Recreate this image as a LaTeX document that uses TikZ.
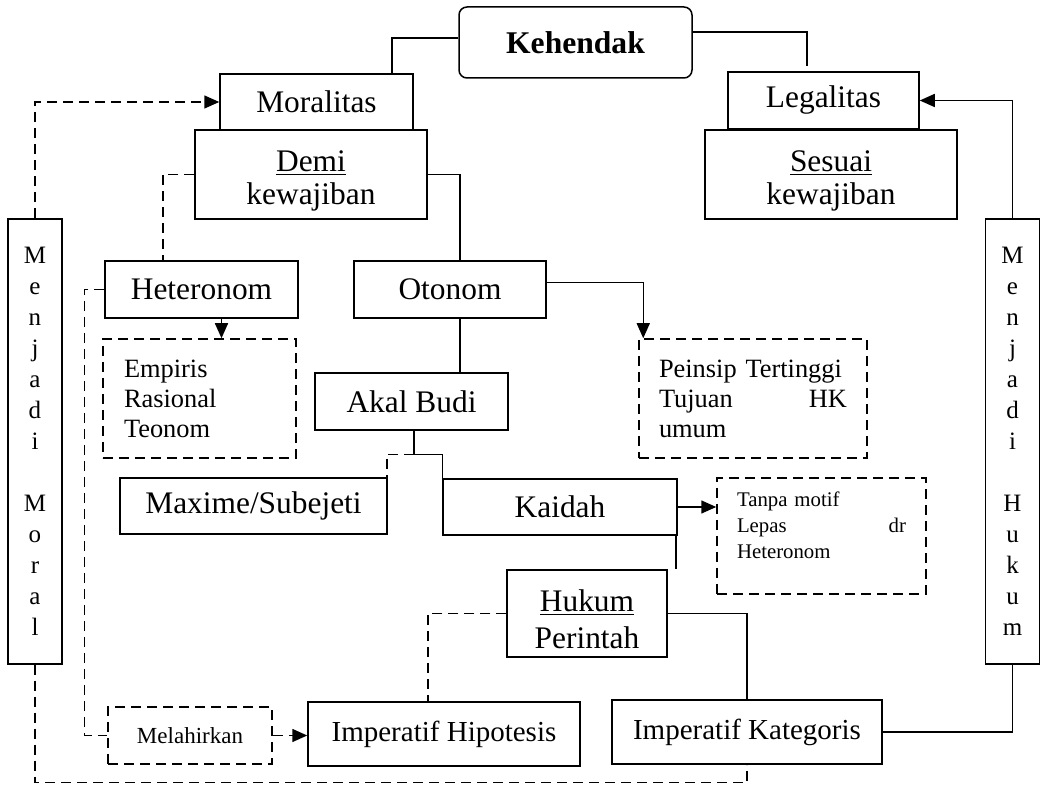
\documentclass[tikz,border=0pt]{standalone}
\usepackage{fontspec}
\setmainfont{Liberation Serif}
\usetikzlibrary{arrows.meta,positioning,calc}

\begin{document}
\begin{tikzpicture}[x=0.5pt,y=-0.5pt,line width=0.75pt,
    >={Triangle[length=7.5pt,width=6.5pt]},
    dline/.style={dash pattern=on 5pt off 3pt},
    box/.style={draw, inner sep=0pt, align=center, font=\fontsize{15.7}{16.5}\selectfont},
    dbox/.style={box, dline},
    imp/.style={box, font=\fontsize{14.5}{15}\selectfont},
    vbox/.style={box, font=\fontsize{12.5}{15.5}\selectfont, minimum width=27pt, minimum height=222.5pt}]
    \useasboundingbox (0,0) rectangle (1046,785);

        \node[box, rounded corners=4pt, font=\fontsize{15.8}{16}\selectfont\bfseries, minimum width=116.5pt, minimum height=35.5pt] (keh) at (575.5,42.5) {Kehendak};
        \node[box, minimum width=96.5pt, minimum height=28pt] (mor) at (316.5,102) {Moralitas};
        \node[box, minimum width=116pt, minimum height=44.5pt] (demi) at (311,174.5) {\underline{Demi}\rule{0pt}{16.7pt}\\kewajiban};
        \node[box, minimum width=95.5pt, minimum height=28.5pt] (leg) at (823.5,100.5) {Legalitas};
        \node[box, minimum width=126pt, minimum height=44.5pt] (ses) at (831,174.5) {\underline{Sesuai}\rule{0pt}{16.7pt}\\kewajiban};

        \node[vbox] (mm) at (35,441.5) {M\\e\\n\\j\\a\\d\\i\\[15.5pt]M\\o\\r\\a\\l};
        \node[vbox] (mh) at (1012.5,441.5) {M\\e\\n\\j\\a\\d\\i\\[15.5pt]H\\u\\k\\u\\m};

        \node[box, minimum width=96.5pt, minimum height=28.5pt] (het) at (201.5,289.5) {Heteronom};
        \node[box, minimum width=96pt, minimum height=28.5pt] (oto) at (450,289.5) {Otonom};
        \node[dbox, align=left, text width=75.5pt, inner xsep=10.5pt, minimum height=59.5pt, font=\fontsize{13.2}{15}\selectfont] (emp) at (199.5,398.5) {Empiris\\Rasional\\Teonom};
        \node[dbox, align=left, text width=94pt, inner xsep=10pt, minimum height=59.5pt, font=\fontsize{13.2}{15}\selectfont] (pei) at (753,398.5) {Peinsip Tertinggi\\Tujuan\hskip0pt plus1filll HK\\umum};

        \node[box, minimum width=96.5pt, minimum height=28.5pt] (akal) at (411.5,401.5) {Akal Budi};
        \node[box, minimum width=133.5pt, minimum height=28pt] (max) at (253.5,506) {Maxime/Subejeti};
        \node[box, minimum width=117pt, minimum height=28pt] (kai) at (560,507) {Kaidah};
        \node[dbox, align=left, text width=84.5pt, inner xsep=10pt, minimum height=58pt, font=\fontsize{10.4}{13}\selectfont] (tan) at (821.5,536) {Tanpa motif\rule{0pt}{10pt}\\Lepas\hskip0pt plus1filll dr\\Heteronom\\\mbox{}};

        \node[box, font=\fontsize{15.7}{18.5}\selectfont, minimum width=80pt, minimum height=43.5pt] (huk) at (587,613.5) {\underline{Hukum}\rule{0pt}{16.7pt}\\Perintah};
        \node[imp, minimum width=136pt, minimum height=32pt] (hip) at (444,734) {Imperatif Hipotesis};
        \node[imp, minimum width=135pt, minimum height=32pt] (kat) at (747,732) {Imperatif Kategoris};
        \node[dbox, font=\fontsize{11.5}{12}\selectfont, minimum width=82pt, minimum height=28.5pt] (mel) at (190,735.5) {Melahirkan};

        \draw ([yshift=2.25pt]keh.west) -| ($(mor.north east)+(-22,0)$);
        \draw ([yshift=5.25pt]keh.east) -| ($(leg.north)+(-16.5,-5)$);
        \draw[dline,->] (mm.north) |- (mor.west);
        \draw[->] (mh.north) |- (leg.east);

        \draw[dline] (demi.west) -| ($(het.north)+(-38.5,0)$);
        \draw (demi.east) -| ($(oto.north)+(10,0)$);

        \draw[->] ($(het.south)+(20,0)$) coordinate (hs) -- (hs |- emp.north);
        \draw[dline] (het.west) -| ($(mel.west)+(-23,0)$) -- (mel.west);
        \draw[->] ([yshift=3.5pt]oto.east) -| ($(pei.north west)+(5,0)$);
        \draw ($(oto.south)+(10,0)$) coordinate (os) -- (os |- akal.north);

        \coordinate (ab) at ($(akal.south)+(2.5,24)$);
        \draw (ab |- akal.south) -- (ab) -| (kai.north west);
        \draw[dline] (ab) -| ($(max.north east)+(-1,0)$);

        \draw[->] (kai.east) -- (kai.east -| tan.west);
        \draw ($(kai.south east)+(-2,0)$) coordinate (ks) -- (ks |- huk.north);
        \draw (huk.east) -| (kat.north);
        \draw[dline] (huk.west) -| ($(hip.north)+(-16,0)$);

        \draw (kat.east) -| (mh.south);
        \draw[dline] (mm.south) |- ($(kat.south)+(0,18)$) -- (kat.south);
        \draw[dline,->] (mel.east) -- (mel.east -| hip.west);
    \end{tikzpicture}
\end{document}
